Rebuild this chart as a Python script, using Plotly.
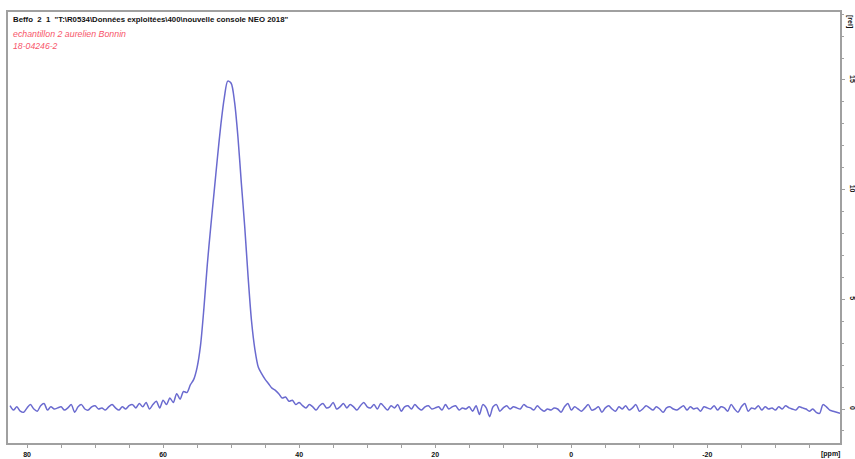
import numpy as np
import plotly.graph_objects as go

# ---- data ----
ppm_left = np.arange(82.5, 57.49, -0.5)
int_left = [0.15, -0.05, 0.1, -0.1, -0.15, 0.05, 0.2, 0.0, -0.1, 0.15,
            0.25, -0.05, 0.1, 0.0, 0.05, 0.1, -0.05, 0.05, 0.2, -0.15,
            0.1, 0.2, 0.0, -0.05, 0.1, 0.15, 0.0, 0.05, -0.05, 0.1,
            0.2, 0.05, -0.05, 0.1, 0.0, 0.15, 0.2, 0.05, 0.25, 0.1,
            0.3, 0.0, 0.2, 0.35, 0.05, 0.4, 0.2, 0.5, 0.3, 0.7,
            0.45]

ppm_peak = np.arange(57.0, 39.99, -0.5)
int_peak = [0.8, 0.75, 1.1, 1.35, 1.9, 2.9, 4.6, 6.6, 8.3, 9.9,
            11.5, 13.0, 14.2, 14.95, 14.85, 14.0, 12.4, 10.3, 8.3, 6.0,
            4.0, 2.7, 1.9, 1.6, 1.35, 1.15, 0.95, 0.85, 0.7, 0.5,
            0.55, 0.35, 0.4, 0.2, 0.3]

ppm_right = np.arange(39.5, -39.51, -0.5)
int_right = [0.15, 0.05, 0.2, 0.1, -0.05, 0.15, 0.25, 0.05, 0.1, 0.3,
             0.0, 0.1, 0.25, 0.05, 0.2, 0.1, -0.05, 0.15, 0.3, 0.1,
             0.05, 0.2, 0.0, 0.25, 0.1, -0.05, 0.15, 0.05, 0.2, -0.1,
             0.1, 0.15, 0.0, 0.2, 0.05, -0.05, 0.1, 0.15, 0.0, 0.05,
             0.1, -0.05, 0.2, 0.0, 0.1, 0.15, -0.05, 0.05, 0.0, 0.1,
             -0.1, 0.15, -0.25, 0.2, 0.05, -0.35, 0.1, 0.2, -0.1, 0.05,
             0.15, 0.0, 0.1, 0.05, 0.0, 0.2, 0.1, 0.05, -0.05, 0.15,
             0.0, -0.1, 0.0, -0.05, 0.05, 0.0, -0.15, 0.1, 0.25, -0.05,
             0.1, 0.0, -0.1, 0.05, 0.2, -0.05, 0.0, 0.1, -0.15, 0.05,
             0.15, 0.0, -0.1, 0.1, 0.0, 0.15, -0.05, 0.05, 0.2, -0.1,
             0.0, 0.15, 0.05, -0.05, 0.1, 0.0, -0.15, 0.05, 0.1, 0.0,
             -0.05, 0.05, 0.15, -0.05, 0.1, 0.0, 0.05, -0.1, 0.1, 0.05,
             0.0, 0.15, -0.05, 0.1, 0.05, -0.1, 0.2, 0.0, -0.15, 0.1,
             0.25, -0.1, 0.05, 0.0, 0.15, -0.05, 0.1, 0.0, 0.05, -0.05,
             0.1, 0.0, 0.15, 0.05, 0.0, -0.05, 0.1, 0.05, 0.0, -0.1,
             0.0, -0.15, -0.2, 0.2, 0.1, -0.05, -0.1, -0.15, -0.2]

x_tick_vals = [80, 60, 40, 20, 0, -20]
x_tick_text = ["80", "60", "40", "20", "0", "-20"]
y_tick_vals = [0, 5, 10, 15]
y_tick_text = ["0", "5", "10", "15"]

header = 'Beffo\u00a0\u00a02\u00a0\u00a01\u00a0\u00a0"T:\\R0534\\Données exploitées\\400\\nouvelle console NEO 2018"'
sample_lines = ["echantillon 2 aurelien Bonnin", "18-04246-2"]

ppm = np.concatenate([ppm_left, ppm_peak, ppm_right])
intensity = np.array(int_left + int_peak + int_right)

fig = go.Figure()
fig.add_trace(go.Scatter(
    x=ppm, y=intensity, mode="lines",
    line=dict(color="#6a6acf", width=1.5, shape="spline", smoothing=0.8),
    hoverinfo="skip", showlegend=False,
))

frame = "#a0a0a0"
fam = "Liberation Sans, Arial, sans-serif"
tickfont = dict(family=fam, size=7, color="#111")

fig.update_layout(
    width=855, height=459,
    margin=dict(l=8, r=15, t=12, b=16, autoexpand=False),
    paper_bgcolor="white", plot_bgcolor="white",
    xaxis=dict(
        range=[82.8, -39.5], showgrid=False, zeroline=False, automargin=False,
        showline=True, linecolor=frame, linewidth=1.5, mirror=True,
        tickmode="array", tickvals=x_tick_vals,
        ticktext=["<b>" + t + "</b>" for t in x_tick_text],
        ticks="outside", ticklen=3, tickcolor=frame, tickwidth=1,
        minor=dict(dtick=5, ticks="outside", ticklen=3, tickcolor=frame, tickwidth=1),
        tickfont=tickfont, ticklabelstandoff=1,
    ),
    yaxis=dict(
        range=[-1.55, 18.1], side="right", showgrid=False, zeroline=False, automargin=False,
        showline=True, linecolor=frame, linewidth=1.5, mirror=True,
        tickmode="array", tickvals=y_tick_vals,
        ticktext=["<b>" + t + "</b>" for t in y_tick_text],
        ticks="outside", ticklen=3, tickcolor=frame, tickwidth=1,
        minor=dict(dtick=1, ticks="outside", ticklen=2, tickcolor=frame, tickwidth=1),
        tickangle=90, tickfont=tickfont, ticklabelstandoff=2,
    ),
)

fig.add_annotation(xref="paper", yref="paper", x=0.004, y=0.983,
                   xanchor="left", yanchor="middle", showarrow=False,
                   text="<b>" + header + "</b>",
                   font=dict(family=fam, size=7.8, color="#111"))
fig.add_annotation(xref="paper", yref="paper", x=0.004, y=0.95,
                   xanchor="left", yanchor="middle", showarrow=False,
                   text="<i>" + sample_lines[0] + "</i>",
                   font=dict(family=fam, size=8.8, color="#f7556a"))
fig.add_annotation(xref="paper", yref="paper", x=0.004, y=0.922,
                   xanchor="left", yanchor="middle", showarrow=False,
                   text="<i>" + sample_lines[1] + "</i>",
                   font=dict(family=fam, size=8.7, color="#f7556a"))
fig.add_annotation(xref="paper", yref="paper", x=1.0, y=0.0, xshift=2, yshift=-11,
                   xanchor="right", yanchor="middle", showarrow=False,
                   text="<b>[ppm]</b>", font=tickfont)
fig.add_annotation(xref="paper", yref="paper", x=1.0, y=1.0, xshift=10, yshift=-9,
                   xanchor="center", yanchor="middle", showarrow=False, textangle=90,
                   text="<b>[rel]</b>", font=tickfont)

fig.write_html(
    "out.html",
    config={"displayModeBar": False},
    post_script="document.body.style.margin='0';document.body.style.overflow='hidden';",
)
